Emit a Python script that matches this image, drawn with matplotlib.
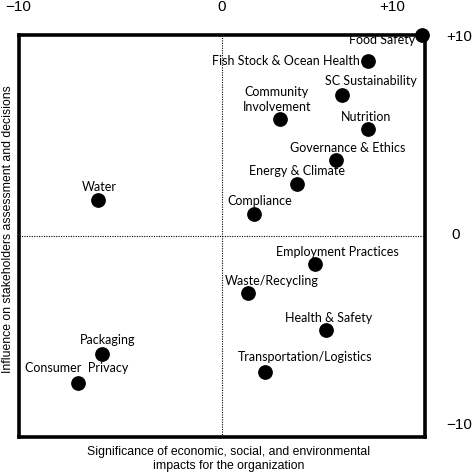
import matplotlib
matplotlib.use("Agg")
import matplotlib.pyplot as plt

topics = ["Food Safety", "Fish Stock & Ocean Health", "SC Sustainability",
          "Community\nInvolvement", "Nutrition", "Governance & Ethics",
          "Energy & Climate", "Compliance", "Water", "Packaging",
          "Consumer  Privacy", "Employment Practices", "Waste/Recycling",
          "Health & Safety", "Transportation/Logistics"]
significance = [9.85, 7.2, 5.9, 2.85, 7.2, 5.6, 3.7, 1.6, -6.1, -5.9, -7.1, 4.6, 1.3, 5.1, 2.1]
influence = [10.0, 8.7, 7.0, 5.8, 5.3, 3.8, 2.6, 1.1, 1.8, -5.85, -7.3, -1.4, -2.85, -4.7, -6.75]

# label offsets in pixels (dx, dy up-positive) and horizontal alignment
label_offsets = {
    "Food Safety": (-7, -5, "right"),
    "Fish Stock & Ocean Health": (-8, 0, "right"),
    "SC Sustainability": (29, 14, "center"),
    "Community\nInvolvement": (-3, 20, "center"),
    "Nutrition": (-2, 12, "center"),
    "Governance & Ethics": (12, 12, "center"),
    "Energy & Climate": (0, 13, "center"),
    "Compliance": (5, 13, "center"),
    "Water": (1, 13, "center"),
    "Packaging": (5, 14, "center"),
    "Consumer  Privacy": (-1, 15, "center"),
    "Employment Practices": (22, 12, "center"),
    "Waste/Recycling": (23, 12, "center"),
    "Health & Safety": (3, 12, "center"),
    "Transportation/Logistics": (40, 15, "center"),
}

W = H = 473
fig = plt.figure(figsize=(4.73, 4.73), dpi=100)
ax = fig.add_axes([19 / W, 1 - 437 / H, (425 - 19) / W, (437 - 35) / H])
ax.set_xlim(-10, 10)
ax.set_ylim(-10, 10)
for s in ax.spines.values():
    s.set_linewidth(2.6)
    s.set_color("black")
ax.set_xticks([])
ax.set_yticks([])
ax.axvline(0, color="black", lw=0.8, ls=(0, (1, 1.2)))
ax.axhline(0, color="black", lw=0.8, ls=(0, (1, 1.2)))

ax.scatter(significance, influence, s=92, color="black", zorder=5, clip_on=False)

lab_font = "Lato"
for name, x, y in zip(topics, significance, influence):
    dx, dy, ha = label_offsets[name]
    ax.annotate(name, (x, y), xytext=(dx * 0.72, dy * 0.72), textcoords="offset points",
                ha=ha, va="center", fontsize=9, family=lab_font, color="black",
                linespacing=1.25, zorder=6)

tick_font = "Liberation Sans"
def ftxt(x, y, s, **kw):
    fig.text(x / W, 1 - y / H, s, ha="center", va="center", family=tick_font,
             fontsize=11, **kw)

ftxt(18, 7, "\u221210")
ftxt(222, 7, "0")
ftxt(392, 7, "+10")
ftxt(459, 37, "+10")
ftxt(456, 235, "0")
ftxt(459, 425, "\u221210")

fig.text(229 / W, 1 - 459 / H,
         "Significance of economic, social, and environmental\nimpacts for the organization",
         ha="center", va="center", family=tick_font, fontsize=8.8, linespacing=1.25)
fig.text(8 / W, 1 - 229 / H, "Influence on stakeholders assessment and decisions",
         ha="center", va="center", rotation=90, family=tick_font, fontsize=8.8)

fig.savefig("out.png", dpi=100)
